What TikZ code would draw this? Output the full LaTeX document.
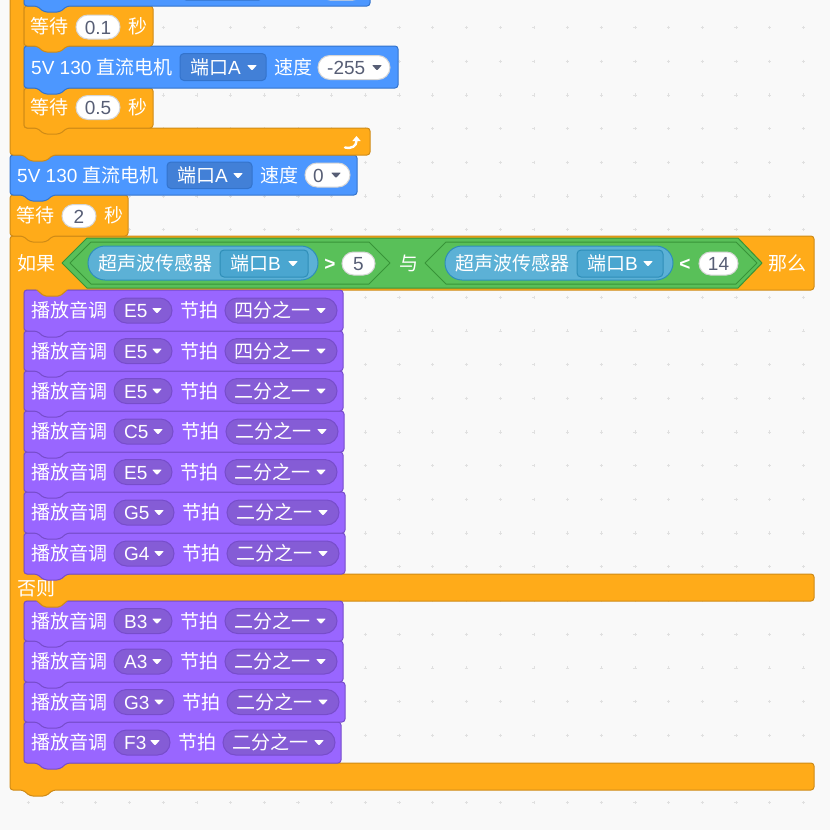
\documentclass[tikz,border=0pt]{standalone}
\usepackage{fontspec}
\newfontfamily\cjk{Noto Sans CJK SC}
\newfontfamily\lat{Liberation Sans}
\newcommand\ltn[1]{{\lat #1}}
\usetikzlibrary{arrows.meta}
\definecolor{bgc}{HTML}{F9F9F9}
\definecolor{gridc}{HTML}{E0E0E0}
\definecolor{ctrl}{HTML}{FFAB19}
\definecolor{ctrlb}{HTML}{CF8B17}
\definecolor{mot}{HTML}{4C97FF}
\definecolor{motb}{HTML}{3373CC}
\definecolor{motd}{HTML}{4280D7}
\definecolor{snd}{HTML}{9966FF}
\definecolor{sndb}{HTML}{774DCB}
\definecolor{sndd}{HTML}{855CD6}
\definecolor{opr}{HTML}{59C059}
\definecolor{oprb}{HTML}{389438}
\definecolor{sns}{HTML}{5CB1D6}
\definecolor{snsb}{HTML}{2E8EB8}
\definecolor{snsd}{HTML}{4AA6D0}
\definecolor{txtg}{HTML}{575E75}
\definecolor{pillb}{HTML}{D5D5D5}
% stack block with bottom tab
\newcommand\stk[6]{%
 \path[fill=#5,draw=#6,line width=1pt,rounded corners=3pt] (#1,#2) -- (#3,#2) -- (#3,#4) -- ({#1+43},#4) -- ({#1+36},{#4+6}) -- ({#1+20},{#4+6}) -- ({#1+13},#4) -- (#1,#4) -- cycle;}
% inner tab of a C block
\newcommand\tabb[4]{%
 \path[fill=#3] ({#1+12},{#2-1.5}) -- ({#1+13},#2) -- ({#1+20},{#2+6}) -- ({#1+36},{#2+6}) -- ({#1+43},#2) -- ({#1+44},{#2-1.5}) -- cycle;
 \draw[#4,line width=1pt,rounded corners=2pt] ({#1+13},#2) -- ({#1+20},{#2+6}) -- ({#1+36},{#2+6}) -- ({#1+43},#2);}
% dropdown triangle
\newcommand\ddn[3]{\fill[#3,rounded corners=0.8pt] ({#1-5},{#2-2.5}) -- ({#1+5},{#2-2.5}) -- (#1,{#2+3}) -- cycle;}
% pill: x1 x2 ymid h fill draw
\newcommand\pill[6]{%
 \pgfmathsetmacro\pillr{#4/2}%
 \draw[fill=#5,draw=#6,line width=1pt,rounded corners=\pillr pt] (#1,{#3-\pillr}) rectangle (#2,{#3+\pillr});}
% play note block: top bottom note noteEnd beat
\newcommand\playblk[5]{%
 \pgfmathsetmacro\pbMid{(#1+#2)/2}%
 \pgfmathsetmacro\pbB{#4+53}%
 \pgfmathsetmacro\pbC{#4+165}%
 \pgfmathsetmacro\pbD{#4+171}%
 \stk{24}{#1}{\pbD}{#2}{snd}{sndb}
 \pill{114}{#4}{\pbMid}{25}{sndd}{sndb}
 \pill{\pbB}{\pbC}{\pbMid}{25}{sndd}{sndb}
 \node[wtxt] at (31,\pbMid) {播放音调};
 \node[wtxt] at (124,\pbMid) {\ltn{#3}};
 \ddn{#4-15}{\pbMid}{white}
 \node[wtxt] at ({#4+8},\pbMid) {节拍};
 \node[wtxt] at ({#4+62},\pbMid) {#5};
 \ddn{\pbC-16}{\pbMid}{white}
}
\begin{document}
\begin{tikzpicture}[x=1pt,y=-1pt,
 wtxt/.style={font=\cjk\fontsize{19}{19}\selectfont, text=white, inner sep=0pt, anchor=west, text height=16.7pt, text depth=2.3pt},
 gtxt/.style={wtxt, text=txtg},
 gctr/.style={gtxt, anchor=center},
 wctr/.style={wtxt, anchor=center}]
\useasboundingbox (0,0) rectangle (830,830);
\clip (0,0) rectangle (830,830);
\fill[bgc] (0,0) rectangle (830,830);
\foreach \i in {0,...,24} {\foreach \j in {0,...,24} {
 \draw[gridc,line width=0.6pt] ({28.3+33.7*\i-1.6},{27.5+33.7*\j}) -- ({28.3+33.7*\i+1.6},{27.5+33.7*\j})
  ({28.3+33.7*\i},{27.5+33.7*\j-1.6}) -- ({28.3+33.7*\i},{27.5+33.7*\j+1.6});}}

% ---------- if / else C block ----------
\path[fill=ctrl,draw=ctrlb,line width=1pt,rounded corners=3pt] (10,236) -- (814,236) -- (814,290) -- (24,290) -- (24,574) -- (814,574) -- (814,601) -- (24,601) -- (24,763) -- (814,763) -- (814,790) -- (53,790) -- (46,796) -- (30,796) -- (23,790) -- (10,790) -- cycle;

% else branch (bottom-up)
\playblk{722}{763}{F3}{170}{二分之一}
\playblk{682}{722}{G3}{174}{二分之一}
\playblk{641}{682}{A3}{172}{二分之一}
\playblk{601}{641}{B3}{172}{二分之一}
\tabb{24}{601}{ctrl}{ctrlb}
\node[wtxt] (else) at (17,588) {否则};

% then branch (bottom-up)
\playblk{533}{574}{G4}{174}{二分之一}
\playblk{492}{533}{G5}{174}{二分之一}
\playblk{452}{492}{E5}{172}{二分之一}
\playblk{411}{452}{C5}{173}{二分之一}
\playblk{371}{411}{E5}{172}{二分之一}
\playblk{331}{371}{E5}{172}{四分之一}
\playblk{290}{331}{E5}{172}{四分之一}
\tabb{24}{290}{ctrl}{ctrlb}

% condition
\node[wtxt] (if) at (17,263) {如果};
\draw[fill=opr,draw=oprb,line width=1pt,line join=round] (62,263) -- (87,238) -- (738,238) -- (762,263) -- (738,288) -- (87,288) -- cycle;
\draw[fill=opr,draw=oprb,line width=1pt,line join=round] (70,263) -- (91,242) -- (369,242) -- (390,263) -- (369,284) -- (91,284) -- cycle;
\draw[fill=opr,draw=oprb,line width=1pt,line join=round] (425,263) -- (446,242) -- (736,242) -- (757,263) -- (736,284) -- (446,284) -- cycle;
% sensor 1
\pill{88}{318}{263}{34}{sns}{snsb}
\node[wtxt] (s1) at (98,263) {超声波传感器};
\draw[fill=snsd,draw=snsb,line width=1pt,rounded corners=4pt] (220,250) rectangle (308,277);
\node[wtxt] (p1) at (230,263.5) {端口\ltn{B}};
\ddn{293}{263.5}{white}
\node[wctr] (gt) at (330,263) {\ltn{\textbf{>}}};
\pill{342}{375}{263.5}{23}{white}{pillb}
\node[gctr] (n5) at (358.5,263.5) {\ltn{5}};
\node[wtxt] (and) at (399,263) {与};
% sensor 2
\pill{445}{673}{263}{34}{sns}{snsb}
\node[wtxt] (s2) at (455,263) {超声波传感器};
\draw[fill=snsd,draw=snsb,line width=1pt,rounded corners=4pt] (577,250) rectangle (663,277);
\node[wtxt] (p2) at (587,263.5) {端口\ltn{B}};
\ddn{648}{263.5}{white}
\node[wctr] (lt) at (685,263) {\ltn{\textbf{<}}};
\pill{699}{738}{263.5}{23}{white}{pillb}
\node[gctr] (n14) at (718.5,263.5) {\ltn{14}};
\node[wtxt] (then) at (768,263) {那么};

% ---------- wait 2 ----------
\stk{10}{195}{128}{236}{ctrl}{ctrlb}
\node[wtxt] (w2) at (16,215.5) {等待};
\pill{62}{96}{216}{23}{white}{pillb}
\node[gctr] (v2) at (79,216) {\ltn{2}};
\node[wtxt] (sec2) at (104,215.5) {秒};

% ---------- motor speed 0 ----------
\stk{10}{155}{357}{195}{mot}{motb}
\node[wtxt] (m0) at (17,175) {\ltn{5V 130 }直流电机};
\draw[fill=motd,draw=motb,line width=1pt,rounded corners=4pt] (167,162) rectangle (252,188.5);
\node[wtxt] (m0p) at (177,175.5) {端口\ltn{A}};
\ddn{238}{175.5}{white}
\node[wtxt] (m0s) at (260,175) {速度};
\pill{305}{350}{175}{24}{white}{pillb}
\node[gtxt] (m0v) at (313,175) {\ltn{0}};
\ddn{336}{175}{txtg}

% ---------- repeat loop (partly visible) ----------
\path[fill=ctrl,draw=ctrlb,line width=1pt,rounded corners=3pt] (10,-20) -- (10,155) -- (23,155) -- (30,161) -- (46,161) -- (53,155) -- (370,155) -- (370,128) -- (24,128) -- (24,-20) -- cycle;
\draw[white,line width=2.4pt,line cap=round,-{Triangle[width=8pt,length=5pt]}] (345,147.5) .. controls (352,149) and (356.5,146) .. (356.5,136);

% wait 0.5
\stk{24}{88}{153}{128}{ctrl}{ctrlb}
\node[wtxt] (w05) at (30,107.5) {等待};
\pill{76}{120}{107.5}{24}{white}{pillb}
\node[gctr] (v05) at (98,107.5) {\ltn{0.5}};
\node[wtxt] (s05) at (128,107.5) {秒};

% motor -255
\stk{24}{46}{398}{88}{mot}{motb}
\node[wtxt] (m1) at (31,67) {\ltn{5V 130 }直流电机};
\draw[fill=motd,draw=motb,line width=1pt,rounded corners=4pt] (180,53.5) rectangle (266,80.5);
\node[wtxt] (m1p) at (190,67.5) {端口\ltn{A}};
\ddn{252}{67.5}{white}
\node[wtxt] (m1s) at (274,67) {速度};
\pill{318}{390}{67.5}{24}{white}{pillb}
\node[gtxt] (m1v) at (327,67.5) {\ltn{-255}};
\ddn{377}{67.5}{txtg}

% wait 0.1
\stk{24}{6}{153}{46}{ctrl}{ctrlb}
\node[wtxt] (w01) at (30,26.5) {等待};
\pill{76}{120}{27}{24}{white}{pillb}
\node[gctr] (v01) at (98,27) {\ltn{0.1}};
\node[wtxt] (s01) at (128,26.5) {秒};

% top motor block (cut off)
\stk{24}{-30}{370}{6}{mot}{motb}
\draw[fill=motd,draw=motb,line width=1pt,rounded corners=4pt] (182,-30) rectangle (263,0);
\pill{318}{365}{-12}{24}{white}{pillb}
\end{tikzpicture}
\end{document}
